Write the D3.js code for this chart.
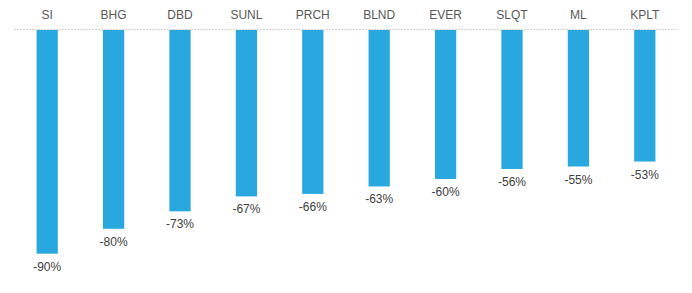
<!DOCTYPE html>
<html><head><meta charset="utf-8">
<script src="https://cdn.jsdelivr.net/npm/d3@7"></script>
<style>body{margin:0;background:#fff}svg{display:block;font-family:"Liberation Sans",Arial,sans-serif}</style>
</head><body>
<svg id="c" width="692" height="293"></svg>
<script>
const categories = ["SI","BHG","DBD","SUNL","PRCH","BLND","EVER","SLQT","ML","KPLT"];
const values = [-90,-80,-73,-67,-66,-63,-60,-56,-55,-53];

const svg = d3.select("#c");
const x = d3.scaleBand().domain(categories).range([14, 678]).paddingInner(0.68).paddingOuter(0.34);
const y = d3.scaleLinear().domain([0, -90]).range([29.5, 253.7]);

svg.append("line").attr("x1",14).attr("x2",678).attr("y1",29.5).attr("y2",29.5)
  .attr("stroke","#d4d4d4").attr("stroke-width",1).attr("stroke-dasharray","2,1");

svg.selectAll("rect.bar").data(categories).join("rect").attr("class","bar")
  .attr("x", d => x(d)).attr("width", x.bandwidth())
  .attr("y", 30).attr("height", (d,i) => y(values[i]) - 30)
  .attr("fill","#29a8e0");

svg.selectAll("text.cat").data(categories).join("text").attr("class","cat")
  .attr("x", d => x(d) + x.bandwidth()/2).attr("y", 19)
  .attr("text-anchor","middle").attr("font-size",12).attr("fill","#595959")
  .text(d => d);

svg.selectAll("text.val").data(categories).join("text").attr("class","val")
  .attr("x", d => x(d) + x.bandwidth()/2).attr("y", (d,i) => y(values[i]) + 17)
  .attr("text-anchor","middle").attr("font-size",12).attr("fill","#404040")
  .text((d,i) => values[i] + "%");
</script>
</body></html>
